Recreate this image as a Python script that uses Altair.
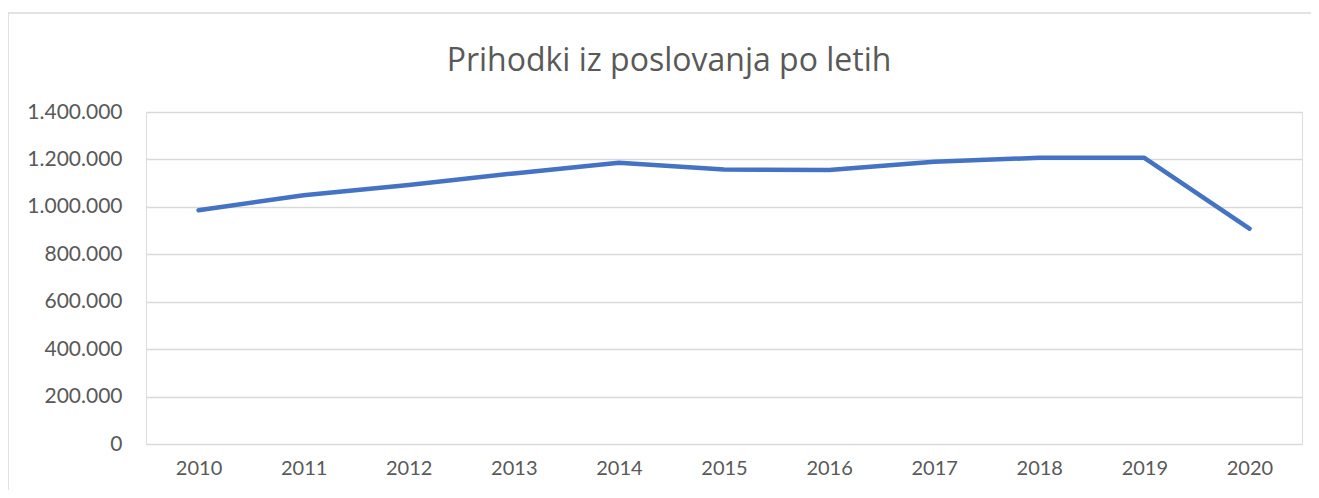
import altair as alt
import pandas as pd

years = ["2010", "2011", "2012", "2013", "2014", "2015", "2016", "2017", "2018", "2019", "2020"]
revenue = [986000, 1049000, 1092000, 1141000, 1186000, 1158000, 1155000, 1190000, 1207000, 1207000, 908000]
y_ticks = [0, 200000, 400000, 600000, 800000, 1000000, 1200000, 1400000]
title_text = "Prihodki iz poslovanja po letih"

df = pd.DataFrame({"year": years, "value": revenue})
one = pd.DataFrame({"t": [title_text]})

FONT = "Lato"
GREY = "#595959"

line = alt.Chart(df).mark_line(
    color="#4472C4", strokeWidth=4.5, strokeCap="round", strokeJoin="round"
).encode(
    x=alt.X("year:O", scale=alt.Scale(type="point", padding=0.5),
            axis=alt.Axis(title=None, labelAngle=0, domain=False, ticks=False, grid=False,
                          labelFont=FONT, labelFontSize=20, labelColor=GREY, labelPadding=14)),
    y=alt.Y("value:Q", scale=alt.Scale(domain=[0, 1400000], nice=False),
            axis=alt.Axis(title=None, values=y_ticks, domain=False, ticks=False,
                          labelFont=FONT, labelFontSize=21, labelColor=GREY, labelPadding=24,
                          gridColor="#d9d9d9", gridWidth=1.5,
                          labelExpr="replace(replace(format(datum.value, ','), ',', '.'), ',', '.')")),
)

title = alt.Chart(one).mark_text(
    font="Open Sans", fontSize=32, color=GREY, baseline="middle", align="center"
).encode(text="t:N", x=alt.value(523), y=alt.value(-51))

border = alt.Chart(one).mark_rect(
    fill=None, stroke="#d9d9d9", strokeWidth=1.5
).encode(x=alt.value(-138), x2=alt.value(1200), y=alt.value(-99), y2=alt.value(420))

chart = alt.layer(border, line, title).properties(
    width=1156, height=332,
    autosize=alt.AutoSizeParams(type="none"),
    padding={"left": 138, "top": 104, "right": 9, "bottom": 46},
).configure_view(stroke=None).configure(background="white")

chart.save("out.html", embed_options={"renderer": "svg", "actions": False})
